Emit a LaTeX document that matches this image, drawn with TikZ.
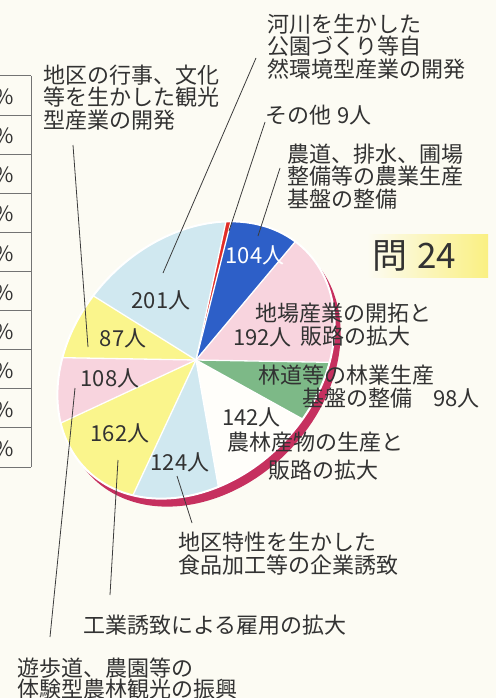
\documentclass[tikz,border=0pt]{standalone}
\usepackage{fontspec}
\setmainfont{Noto Sans CJK JP}
\definecolor{bg}{RGB}{252,251,243}
\definecolor{txt}{RGB}{50,50,50}
\definecolor{lnc}{RGB}{60,60,60}
\definecolor{lblue}{RGB}{208,232,240}
\definecolor{bluesl}{RGB}{45,95,200}
\definecolor{pinksl}{RGB}{248,212,222}
\definecolor{greensl}{RGB}{125,185,135}
\definecolor{whitesl}{RGB}{255,254,250}
\definecolor{yelsl}{RGB}{250,245,140}
\definecolor{redsl}{RGB}{225,45,40}
\definecolor{rimc}{RGB}{198,48,95}
\definecolor{titley}{RGB}{250,240,130}
\definecolor{tblc}{RGB}{115,115,115}
\begin{document}
\begin{tikzpicture}[x=1pt,y=-1pt,
  lbl/.style={inner sep=0pt, font=\fontsize{22}{22.5}\selectfont, text=txt, align=left, anchor=west},
  val/.style={inner sep=0pt, font=\fontsize{22}{22.5}\selectfont, text=txt, anchor=center},
  pct/.style={inner sep=0pt, font=\fontsize{21}{22}\selectfont, text=txt, anchor=east},
  leader/.style={draw=lnc, line width=0.8pt},
  tbl/.style={draw=tblc, line width=1pt}]
\useasboundingbox (0,0) rectangle (496,698);
\fill[bg] (0,0) rectangle (496,698);

% table at left
\foreach \i in {0,...,10} \draw[tbl] (-2,{76+39.1*\i}) -- (31,{76+39.1*\i});
\draw[tbl] (31,76) -- (31,467);
\foreach \i in {0,...,9} \node[pct] (p\i) at (14,{97+39.1*\i}) {\%};

% pie
\coordinate (C) at (196,360);
\fill[rimc, rotate around={45:(202,368)}] (202,368) ellipse[x radius=155, y radius=120];
\begin{scope}
  \clip[rotate around={45:(C)}] (C) ellipse[x radius=155, y radius=120];
  \foreach \a/\b/\c in {-148/-77.8/lblue, -77.8/-75.8/redsl, -75.8/-50/bluesl, -50/1/pinksl, 1/29/greensl, 29/80/whitesl, 80/115/lblue, 115/155/yelsl, 155/181/pinksl, 181/212/yelsl}
    \fill[\c] (C) -- ++(\a:230) arc[start angle=\a, end angle=\b, radius=230] -- cycle;
  \foreach \a in {-148,-77.8,-75.8,-50,1,29,80,115,155,181}
    \draw[white, line width=1.3pt] (C) -- ++(\a:230);
\end{scope}
\draw[white, line width=2pt, rotate around={45:(C)}] (C) ellipse[x radius=155, y radius=120];

% title
\shade[left color=bg, right color=titley] (367,234) rectangle (488,277);
\node[inner sep=0pt, font=\fontsize{35}{36}\selectfont, text=txt, anchor=west] (q24) at (372,256) {問\hspace{10pt}24};

% category labels
\node[lbl] (kasen) at (267,46.5) {河川を生かした\\公園づくり等自\\然環境型産業の開発};
\node[lbl] (sonota) at (265,115) {その他\hspace{6pt}9人};
\node[lbl] (nodo) at (287,176.5) {農道、排水、圃場\\整備等の農業生産\\基盤の整備};
\node[lbl] (gyoji) at (43,97.5) {地区の行事、文化\\等を生かした観光\\型産業の開発};
\node[lbl] (jiba) at (255,324.5) {地場産業の開拓と\\\hspace*{45pt}販路の拡大};
\node[lbl] (rindo) at (258,386.5) {林道等の林業生産\\\hspace*{44pt}基盤の整備};
\node[lbl, font=\fontsize{22}{28.5}\selectfont] (norin) at (227,456) {農林産物の生産と\\\hspace*{41pt}販路の拡大};
\node[lbl] (tokusei) at (178,553.5) {地区特性を生かした\\食品加工等の企業誘致};
\node[lbl] (kogyo) at (83,625) {工業誘致による雇用の拡大};
\node[lbl, font=\fontsize{22}{21}\selectfont] (yuho) at (17,678.5) {遊歩道、農園等の\\体験型農林観光の振興};

% value labels
\node[val] (v201) at (161,300) {201人};
\node[val, text=white] (v104) at (255,255) {104人};
\node[lbl] (v192) at (233,337) {192人};
\node[lbl] (v98) at (433,398) {98人};
\node[lbl] (v142) at (222,417) {142人};
\node[val] (v124) at (180,462) {124人};
\node[val] (v162) at (120,433) {162人};
\node[val] (v108) at (110,378) {108人};
\node[val] (v87) at (123,338) {87人};

% leader lines
\coordinate (l1a) at (73,145);  \coordinate (l1b) at (88,347);
\coordinate (l2a) at (256,58);  \coordinate (l2b) at (163,273);
\coordinate (l3a) at (265,122); \coordinate (l3b) at (229,231);
\coordinate (l4a) at (280,168); \coordinate (l4b) at (258,236);
\coordinate (l5a) at (192,523); \coordinate (l5b) at (177,476);
\coordinate (l6a) at (110,595); \coordinate (l6b) at (118,460);
\coordinate (l7a) at (50,637);  \coordinate (l7b) at (75,388);
\draw[leader] (l1a) -- (l1b);
\draw[leader] (l2a) -- (l2b);
\draw[leader] (l3a) -- (l3b);
\draw[leader] (l4a) -- (l4b);
\draw[leader] (l5a) -- (l5b);
\draw[leader] (l6a) -- (l6b);
\draw[leader] (l7a) -- (l7b);
\end{tikzpicture}
\end{document}
